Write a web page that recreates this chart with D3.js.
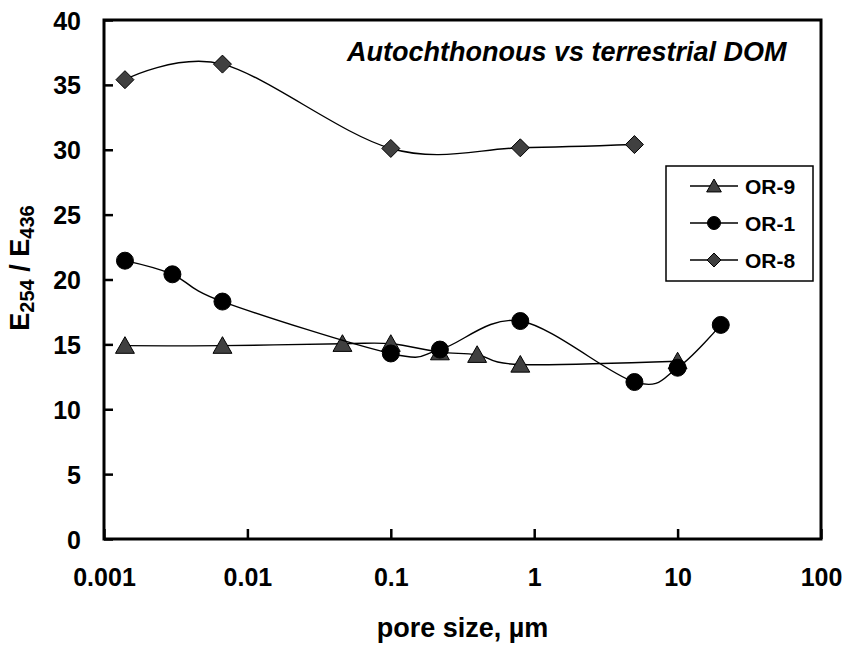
<!DOCTYPE html>
<html>
<head>
<meta charset="utf-8">
<script src="https://cdn.jsdelivr.net/npm/d3@7"></script>
<style>
  body { margin: 0; background: #fff; }
  svg { display: block; }
  text { font-family: "Liberation Sans", Arial, sans-serif; font-weight: bold; fill: #000; }
</style>
</head>
<body>
<svg id="chart" width="850" height="648"></svg>
<script>
// ---- data ----
const seriesNames = ["OR-9", "OR-1", "OR-8"];
const or9X = [0.0014, 0.0067, 0.046, 0.1, 0.22, 0.4, 0.8, 10];
const or9Y = [14.9, 14.9, 15.05, 15.05, 14.4, 14.2, 13.45, 13.7];
const or1X = [0.0014, 0.003, 0.0067, 0.1, 0.22, 0.8, 5, 10, 20];
const or1Y = [21.45, 20.4, 18.3, 14.3, 14.6, 16.8, 12.1, 13.2, 16.5];
const or8X = [0.0014, 0.0067, 0.1, 0.8, 5];
const or8Y = [35.4, 36.6, 30.1, 30.15, 30.4];
const xTickValues = [0.001, 0.01, 0.1, 1, 10, 100];
const xTickLabels = ["0.001", "0.01", "0.1", "1", "10", "100"];
const yTickValues = [0, 5, 10, 15, 20, 25, 30, 35, 40];
const titleText = "Autochthonous vs terrestrial DOM";
const xAxisTitle = "pore size, \u00b5m";

// ---- layout ----
const svg = d3.select("#chart");
const L = 104, R = 821, T = 20, B = 539;
const x = d3.scaleLog().domain([0.001, 100]).range([L, R]);
const y = d3.scaleLinear().domain([0, 40]).range([B, T]);

const series = [
  { name: seriesNames[0], xs: or9X, ys: or9Y, shape: "triangle", fill: "#404040" },
  { name: seriesNames[1], xs: or1X, ys: or1Y, shape: "circle", fill: "#000000" },
  { name: seriesNames[2], xs: or8X, ys: or8Y, shape: "diamond", fill: "#404040" }
];

function markerPath(shape, s) {
  if (shape === "triangle") return `M0,${-s}L${s * 1.05},${s * 0.85}L${-s * 1.05},${s * 0.85}Z`;
  if (shape === "diamond") return `M0,${-s}L${s},0L0,${s}L${-s},0Z`;
  return d3.arc()({ innerRadius: 0, outerRadius: s, startAngle: 0, endAngle: 2 * Math.PI });
}

// frame
svg.append("rect").attr("x", L).attr("y", T).attr("width", R - L).attr("height", B - T)
  .attr("fill", "none").attr("stroke", "#000").attr("stroke-width", 3);

// axes
const yAxis = d3.axisLeft(y).tickValues(yTickValues).tickSize(-9).tickSizeOuter(0).tickPadding(23);
const gy = svg.append("g").attr("transform", `translate(${L},0)`).call(yAxis);
gy.select(".domain").remove();
gy.selectAll(".tick line").attr("stroke", "#000").attr("stroke-width", 2.5);
gy.selectAll(".tick text").attr("font-size", 25).attr("dy", "0.36em")
  .attr("font-family", "'Liberation Sans', Arial, sans-serif").attr("font-weight", "bold");

const xAxis = d3.axisBottom(x).tickValues(xTickValues).tickSize(-10).tickSizeOuter(0)
  .tickFormat((d, i) => xTickLabels[i]);
const gx = svg.append("g").attr("transform", `translate(0,${B})`).call(xAxis);
gx.select(".domain").remove();
gx.selectAll(".tick line").attr("stroke", "#000").attr("stroke-width", 2.5);
gx.selectAll(".tick text").attr("font-size", 25).attr("y", 47).attr("dy", 0)
  .attr("font-family", "'Liberation Sans', Arial, sans-serif").attr("font-weight", "bold");

// lines + markers
const line = d3.line().x(d => x(d[0])).y(d => y(d[1])).curve(d3.curveCatmullRom.alpha(0));
series.forEach(s => {
  const pts = s.xs.map((v, i) => [v, s.ys[i]]);
  svg.append("path").attr("d", line(pts)).attr("fill", "none")
    .attr("stroke", "#000").attr("stroke-width", 1.4);
  svg.append("g").selectAll("path").data(pts).join("path")
    .attr("transform", d => `translate(${x(d[0])},${y(d[1])})`)
    .attr("d", markerPath(s.shape, s.shape === "circle" ? 8.5 : 9))
    .attr("fill", s.fill).attr("stroke", "#000").attr("stroke-width", 1);
});

// title
svg.append("text").attr("x", 347).attr("y", 61).attr("font-size", 27)
  .attr("font-style", "italic").text(titleText);

// x axis title
svg.append("text").attr("x", (L + R) / 2).attr("y", 637).attr("text-anchor", "middle")
  .attr("font-size", 27).text(xAxisTitle);

// y axis title
const yl = svg.append("text").attr("transform", "translate(29,268) rotate(-90)")
  .attr("text-anchor", "middle").attr("font-size", 27);
yl.append("tspan").text("E");
yl.append("tspan").attr("font-size", 20).attr("dy", 5).text("254");
yl.append("tspan").attr("dy", -5).text(" / E");
yl.append("tspan").attr("font-size", 20).attr("dy", 5).text("436");

// legend
svg.append("rect").attr("x", 666).attr("y", 166).attr("width", 147).attr("height", 115)
  .attr("fill", "#fff").attr("stroke", "#000").attr("stroke-width", 1.5);
const legY = [186, 223, 260];
series.forEach((s, i) => {
  const g = svg.append("g").attr("transform", `translate(0,${legY[i]})`);
  g.append("line").attr("x1", 690).attr("x2", 738).attr("stroke", "#000").attr("stroke-width", 1.4);
  g.append("path").attr("transform", "translate(714,0)")
    .attr("d", markerPath(s.shape, s.shape === "circle" ? 6.5 : 7))
    .attr("fill", s.fill).attr("stroke", "#000").attr("stroke-width", 1);
  g.append("text").attr("x", 745).attr("y", 7.5).attr("font-size", 21).text(s.name);
});
</script>
</body>
</html>
